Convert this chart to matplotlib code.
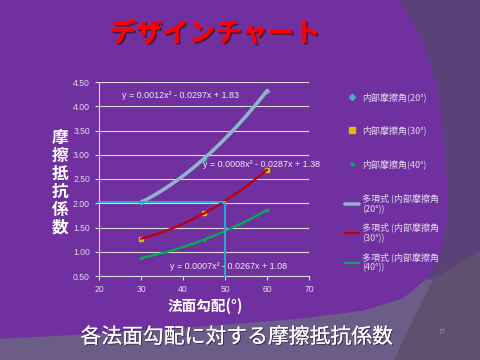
import numpy as np
import matplotlib
matplotlib.use("Agg")
import matplotlib.pyplot as plt
from matplotlib.patches import Polygon
import matplotlib.patheffects as pe

plt.rcParams['font.family'] = ['Noto Sans CJK JP', 'DejaVu Sans']

# data
slope_x = [30, 45, 60]
coef_20 = [2.02, 2.92, 4.32]   # 内部摩擦角 20°
coef_30 = [1.27, 1.79, 2.69]   # 内部摩擦角 30°
coef_40 = [0.87, 1.25, 1.86]   # 内部摩擦角 40°
eq_labels = ["y = 0.0012x² - 0.0297x + 1.83",
             "y = 0.0008x² - 0.0287x + 1.38",
             "y = 0.0007x² - 0.0267x + 1.08"]
eq_pos = [(25.4, 4.22), (44.8, 2.79), (36.9, 0.70)]
point_labels = ["内部摩擦角(20°)", "内部摩擦角(30°)", "内部摩擦角(40°)"]
trend_labels = ["多項式 (内部摩擦角\n(20°))", "多項式 (内部摩擦角\n(30°))",
                "多項式 (内部摩擦角\n(40°))"]
guide_x = 50
guide_y = 2.02
xticks = [20, 30, 40, 50, 60, 70]
yticks = [0.5, 1.0, 1.5, 2.0, 2.5, 3.0, 3.5, 4.0, 4.5]

W, H = 480, 360
fig = plt.figure(figsize=(4.8, 3.6), dpi=100)
fig.patch.set_facecolor('#5F5070')


def px(points):
    return [(x / W, 1 - y / H) for x, y in points]


# slide background shapes
fig.patches.append(Polygon(px([(370, 0), (480, 0), (480, 250), (430, 280), (380, 200)]),
                           closed=True, transform=fig.transFigure, color='#5A4278', zorder=-10))
fig.patches.append(Polygon(px([(0, 320), (0, 360), (393, 360), (412, 320), (432, 280), (300, 300)]),
                           closed=True, transform=fig.transFigure, color='#6C5C88', zorder=-10))
fig.patches.append(Polygon(px([(0, 0), (399, 0), (422, 40), (437, 90), (445, 150), (447, 210),
                               (441, 250), (427, 278), (402, 298), (362, 310), (300, 318),
                               (200, 326), (100, 333), (0, 338)]),
                           closed=True, transform=fig.transFigure, color='#7030A0', zorder=-10))

ax = fig.add_axes([99 / W, 1 - 276 / H, 210 / W, 194 / H])
ax.set_facecolor('none')

tick_col = '#E4DCF0'
grid_col = '#DCDCDC'

colors = ['#8FB3C8', '#C00000', '#00B050']
markers = [('D', '#4BACC6', 2.4), ('s', '#E8B800', 3.0), ('o', '#00B050', 1.6)]
series = [coef_20, coef_30, coef_40]
widths = [2.6, 1.6, 1.6]

xs = np.linspace(min(slope_x), max(slope_x), 100)
point_handles = []
trend_handles = []
for ys, col, (mk, mc, ms), lw in zip(series, colors, markers, widths):
    h, = ax.plot(slope_x, ys, linestyle='none', marker=mk, color=mc,
                 markersize=ms, markeredgecolor=mc, zorder=3)
    point_handles.append(h)
    fit = np.polyfit(slope_x, ys, 2)
    t, = ax.plot(xs, np.polyval(fit, xs), color=col, lw=lw, zorder=4,
                 solid_capstyle='round')
    trend_handles.append(t)

# guide lines for 50°
ax.plot([xticks[0], guide_x], [guide_y, guide_y], color='#2EA6CC', lw=1.5, zorder=5, clip_on=False)
ax.plot([guide_x, guide_x], [guide_y, yticks[0]], color='#2EA6CC', lw=1.5, zorder=5, clip_on=False)

for txt, (ex, ey) in zip(eq_labels, eq_pos):
    ax.text(ex, ey, txt, fontsize=6.4, color='#F0ECF6', va='center', ha='left',
            family=['Liberation Sans', 'DejaVu Sans'], zorder=6, clip_on=False)

ax.set_xlim(xticks[0], xticks[-1])
ax.set_ylim(yticks[0], yticks[-1])
ax.set_xticks(xticks)
ax.set_yticks(yticks)
ax.set_yticklabels([f"{v:.2f}" for v in yticks])
ax.yaxis.grid(True, color=grid_col, lw=0.8)
ax.set_axisbelow(True)
for s in ['top', 'right']:
    ax.spines[s].set_visible(False)
for s in ['left', 'bottom']:
    ax.spines[s].set_color(grid_col)
    ax.spines[s].set_linewidth(0.8)
ax.tick_params(colors=grid_col, labelcolor=tick_col, labelsize=6.2, length=3, width=0.8)
for lab in ax.get_xticklabels() + ax.get_yticklabels():
    lab.set_family(['Liberation Sans', 'DejaVu Sans'])

# axis titles
fig.text(60 / W, 1 - 183 / H, "\n".join("摩擦抵抗係数"), fontsize=12, fontweight='bold',
         color='white', ha='center', va='center', linespacing=1.0)
fig.text(205 / W, 1 - 306 / H, "法面勾配(°)", fontsize=10.5, fontweight='bold',
         color='white', ha='center', va='center')

# legends
leg1 = ax.legend(point_handles, point_labels, loc='upper left', bbox_to_anchor=(341 / W, 1 - 89 / H),
                 bbox_transform=fig.transFigure, frameon=False, fontsize=6.5, labelcolor=tick_col,
                 handlelength=1.6, handletextpad=0.3, labelspacing=2.6, borderaxespad=0,
                 markerscale=1.3)
ax.add_artist(leg1)
ax.legend(trend_handles, trend_labels, loc='upper left', bbox_to_anchor=(341 / W, 1 - 190 / H),
          bbox_transform=fig.transFigure, frameon=False, fontsize=6.5, labelcolor=tick_col,
          handlelength=1.6, handletextpad=0.3, labelspacing=1.0, borderaxespad=0)

# slide texts
fig.text(215 / W, 1 - 34 / H, "デザインチャート", fontsize=19, fontweight='bold', color='#FF0000',
         ha='center', va='center',
         path_effects=[pe.withSimplePatchShadow(offset=(1.2, -1.2), shadow_rgbFace='#401020', alpha=0.8),
                       pe.Normal()])
fig.text(237 / W, 1 - 337 / H, "各法面勾配に対する摩擦抵抗係数", fontsize=15, color='white',
         ha='center', va='center',
         path_effects=[pe.withSimplePatchShadow(offset=(0.8, -0.8), shadow_rgbFace='#302040', alpha=0.7),
                       pe.Normal()])
fig.text(442 / W, 1 - 332 / H, "77", fontsize=4.5, color='#A69CB4', ha='center', va='center')

fig.savefig("out.png", dpi=100, facecolor=fig.get_facecolor())
